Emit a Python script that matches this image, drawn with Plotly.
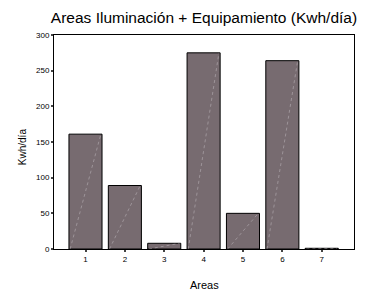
import plotly.graph_objects as go

areas = [1, 2, 3, 4, 5, 6, 7]
kwh = [161, 89, 8, 275, 50, 264, 1]
y_ticks = [0, 50, 100, 150, 200, 250, 300]

bar_width = 0.84

fig = go.Figure()
fig.add_trace(go.Bar(
    x=areas, y=kwh, width=bar_width,
    marker=dict(color="#776b70", line=dict(color="#000000", width=1)),
    showlegend=False, hoverinfo="x+y",
))

# faint diagonal artefact lines inside bars
dx, dy = [], []
for a, v in zip(areas, kwh):
    dx += [a - bar_width / 2 + 0.03, a + bar_width / 2 - 0.03, None]
    dy += [0, v, None]
fig.add_trace(go.Scatter(
    x=dx, y=dy, mode="lines",
    line=dict(color="rgba(210,205,210,0.6)", width=0.7, dash="dot"),
    showlegend=False, hoverinfo="skip",
))

# page body adds an 8px offset; figure sized to compensate
W, H = 363, 283
fig.update_layout(
    width=W, height=H,
    margin=dict(l=46, r=17, t=27, b=42, autoexpand=False),
    paper_bgcolor="white", plot_bgcolor="white",
    font=dict(family="Liberation Sans, Arial, sans-serif", color="#000000"),
    title=dict(text="Areas Iluminación + Equipamiento (Kwh/día)",
               x=0.5, xref="paper", xanchor="center",
               y=1 - 10 / H, yref="container", yanchor="middle",
               font=dict(size=15.5)),
    bargap=0.16,
    annotations=[
        dict(text="Areas", xref="paper", yref="paper", x=0.5, y=-0.168,
             xanchor="center", yanchor="middle", showarrow=False,
             font=dict(size=11)),
        dict(text="Kwh/día", xref="paper", yref="paper", x=-0.107, y=0.48,
             xanchor="center", yanchor="middle", showarrow=False,
             textangle=-90, font=dict(size=10)),
    ],
)
fig.update_xaxes(
    range=[0.2, 7.82], tickmode="array", tickvals=areas,
    ticktext=[str(a) for a in areas], automargin=False,
    tickfont=dict(size=8), ticks="outside", ticklen=2, tickwidth=2,
    showline=True, linecolor="#000000", linewidth=1, mirror=True,
    showgrid=False, zeroline=False,
)
fig.update_yaxes(
    range=[0, 300], tickmode="array", tickvals=y_ticks, automargin=False,
    tickfont=dict(size=8), ticks="outside", ticklen=2, tickwidth=2,
    showline=True, linecolor="#000000", linewidth=1, mirror=True,
    showgrid=False, zeroline=False,
)

fig.write_html("out.html")
